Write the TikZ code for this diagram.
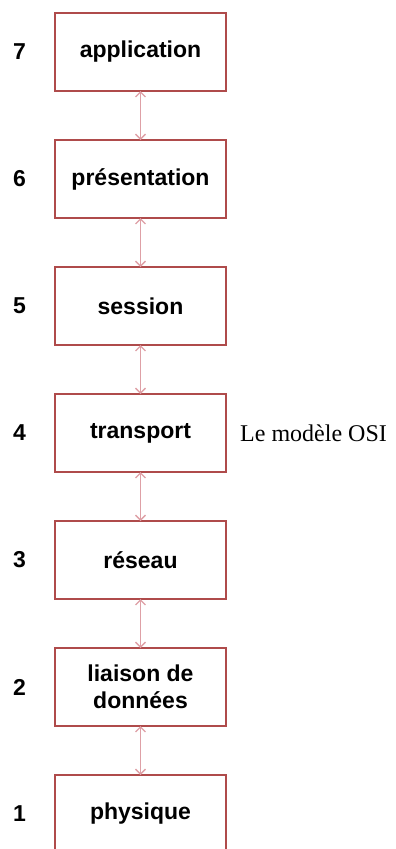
\documentclass[tikz,border=0pt]{standalone}
\usepackage{fontspec}
\setmainfont{Liberation Serif}
\setsansfont{Liberation Sans}
\usetikzlibrary{positioning,arrows.meta}
\definecolor{boxred}{RGB}{175,75,75}
\definecolor{linkpink}{RGB}{222,160,166}
\tikzset{
  layer/.style={draw=boxred, line width=2.8pt, minimum width=171pt, minimum height=78pt, outer sep=0pt, inner sep=2pt, align=center, font=\sffamily\bfseries\fontsize{23}{27}\selectfont},
  num/.style={font=\sffamily\bfseries\fontsize{23}{27}\selectfont, inner sep=0pt},
  link/.style={linkpink, line width=1.3pt, {Straight Barb[length=5pt,width=10pt]}-{Straight Barb[length=5pt,width=10pt]}}
}
\begin{document}
\begin{tikzpicture}
\useasboundingbox[fill=white] (0,0) rectangle (396pt,-849pt);
\node[layer] (l7) at (140.5pt,-52pt) {application};
\node[layer, below=49pt of l7] (l6) {présentation};
\node[layer, below=49pt of l6] (l5) {session};
\node[layer, below=49pt of l5] (l4) {transport};
\node[layer, below=49pt of l4] (l3) {réseau};
\node[layer, below=49pt of l3] (l2) {liaison de\\données};
\node[layer, below=49pt of l2] (l1) {physique};
%
\node[num, left=29pt of l7] (n7) {7};
\node[num, left=29pt of l6] (n6) {6};
\node[num, left=29pt of l5] (n5) {5};
\node[num, left=29pt of l4] (n4) {4};
\node[num, left=29pt of l3] (n3) {3};
\node[num, left=29pt of l2] (n2) {2};
\node[num, left=29pt of l1] (n1) {1};
%
\node[right=14pt of l4, inner sep=0pt, font=\fontsize{24}{26}\selectfont] (osi) {Le modèle OSI};
%
\draw[link] (l7) -- (l6);
\draw[link] (l6) -- (l5);
\draw[link] (l5) -- (l4);
\draw[link] (l4) -- (l3);
\draw[link] (l3) -- (l2);
\draw[link] (l2) -- (l1);
\end{tikzpicture}
\end{document}
